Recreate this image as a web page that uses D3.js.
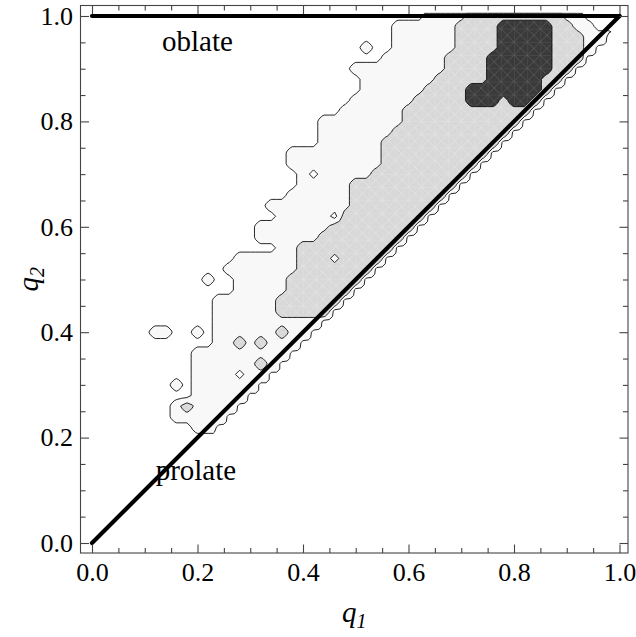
<!DOCTYPE html>
<html><head><meta charset="utf-8">
<script src="https://cdn.jsdelivr.net/npm/d3@7"></script>
<style>body{margin:0;background:#fff}svg{display:block}</style>
</head><body><svg id="c" width="636" height="637"></svg>
<script>
// ---------- data ----------
const majorTicks = [0, 0.2, 0.4, 0.6, 0.8, 1.0];
const minorTicks = [0.05,0.1,0.15,0.25,0.3,0.35,0.45,0.5,0.55,0.65,0.7,0.75,0.85,0.9,0.95];
const tickLabels = ["0.0","0.2","0.4","0.6","0.8","1.0"];
const gridStep = 0.02;           // sampling of the density grid in q1, q2
// contour level 1 (lightest shade): [q2, [[q1 from, q1 to], ...]]
const level1Rows = [
  [1.00,[[0.64,0.92]]],[0.98,[[0.58,0.94]]],[0.96,[[0.58,0.98]]],[0.94,[[0.52,0.52],[0.58,0.96]]],
  [0.92,[[0.56,0.94]]],[0.90,[[0.50,0.92]]],[0.88,[[0.52,0.90]]],[0.86,[[0.52,0.88]]],
  [0.84,[[0.50,0.86]]],[0.82,[[0.48,0.84]]],[0.80,[[0.44,0.82]]],[0.78,[[0.44,0.80]]],
  [0.76,[[0.44,0.78]]],[0.74,[[0.38,0.76]]],[0.72,[[0.38,0.74]]],[0.70,[[0.40,0.72]]],
  [0.68,[[0.40,0.70]]],[0.66,[[0.38,0.68]]],[0.64,[[0.34,0.66]]],[0.62,[[0.36,0.64]]],
  [0.60,[[0.32,0.62]]],[0.58,[[0.32,0.60]]],[0.56,[[0.36,0.58]]],[0.54,[[0.28,0.56]]],
  [0.52,[[0.26,0.54]]],[0.50,[[0.22,0.22],[0.28,0.52]]],[0.48,[[0.28,0.50]]],[0.46,[[0.24,0.48]]],
  [0.44,[[0.24,0.46]]],[0.42,[[0.24,0.44]]],[0.40,[[0.12,0.14],[0.20,0.20],[0.24,0.42]]],
  [0.38,[[0.24,0.40]]],[0.36,[[0.20,0.38]]],[0.34,[[0.20,0.36]]],[0.32,[[0.20,0.36]]],
  [0.30,[[0.16,0.16],[0.20,0.34]]],[0.28,[[0.20,0.32]]],[0.26,[[0.16,0.28]]],
  [0.24,[[0.16,0.26]]],[0.22,[[0.20,0.24]]]
];
// contour level 2 (light grey)
const level2Rows = [
  [1.00,[[0.72,0.88]]],[0.98,[[0.70,0.90]]],[0.96,[[0.70,0.92]]],[0.94,[[0.70,0.92]]],
  [0.92,[[0.68,0.92]]],[0.90,[[0.68,0.90]]],[0.88,[[0.66,0.88]]],[0.86,[[0.64,0.86]]],
  [0.84,[[0.62,0.84]]],[0.82,[[0.60,0.82]]],[0.80,[[0.60,0.80]]],[0.78,[[0.58,0.78]]],
  [0.76,[[0.56,0.76]]],[0.74,[[0.56,0.74]]],[0.72,[[0.56,0.72]]],[0.70,[[0.54,0.70]]],
  [0.68,[[0.50,0.68]]],[0.66,[[0.50,0.66]]],[0.64,[[0.50,0.64]]],[0.62,[[0.48,0.62]]],
  [0.60,[[0.46,0.60]]],[0.58,[[0.44,0.58]]],[0.56,[[0.40,0.56]]],[0.54,[[0.40,0.54]]],
  [0.52,[[0.40,0.52]]],[0.50,[[0.38,0.50]]],[0.48,[[0.38,0.48]]],[0.46,[[0.36,0.46]]],
  [0.44,[[0.36,0.44]]],[0.40,[[0.36,0.36]]],[0.38,[[0.28,0.28],[0.32,0.32]]],[0.34,[[0.32,0.32]]],
  [0.26,[[0.18,0.18]]]
];
// contour level 3 (dark)
const level3Rows = [
  [0.98,[[0.78,0.86]]],[0.96,[[0.78,0.86]]],[0.94,[[0.78,0.86]]],[0.92,[[0.76,0.86]]],
  [0.90,[[0.76,0.86]]],[0.88,[[0.76,0.84]]],[0.86,[[0.72,0.84]]],[0.84,[[0.72,0.76],[0.80,0.82]]]
];
// empty pockets inside the lightest region: [q1, q2]
const holes = [[0.46,0.62],[0.42,0.70],[0.28,0.32]];
// lighter pockets inside the grey region: [q1, q2]
const greyPockets = [[0.46,0.54]];
const contourLevels = [0.4, 1.4, 2.4];
const shadeColors = ["#f8f8f8", "#d8d8d8", "#3a3a3a"];
const boundaryLines = [ {from:[0,0], to:[1,1]}, {from:[0,1], to:[1,1]} ];
const annotations = [ {text:"oblate", q1:0.2, q2:0.934}, {text:"prolate", q1:0.197, q2:0.12} ];

// ---------- layout ----------
const svg = d3.select("#c");
const frame = {left:80.5, right:628, top:5.5, bottom:553};
const x = d3.scaleLinear().domain([0,1]).range([92, 619.5]);
const y = d3.scaleLinear().domain([0,1]).range([543, 16]);
const FONT = "'Liberation Serif','Times New Roman',Times,serif";

// ---------- build grid ----------
const n = Math.round(1/gridStep) + 1;  // 51
const grid = Array.from({length:n}, () => new Array(n).fill(0));
function paint(rows, level){
  rows.forEach(([q2, spans]) => {
    const j = Math.round(q2/gridStep);
    spans.forEach(([a,b]) => {
      for (let i = Math.round(a/gridStep); i <= Math.round(b/gridStep); i++) grid[j][i] = Math.max(grid[j][i], level);
    });
  });
}
paint(level1Rows,1); paint(level2Rows,2); paint(level3Rows,3);
holes.forEach(([a,b]) => { grid[Math.round(b/gridStep)][Math.round(a/gridStep)] = 0; });
greyPockets.forEach(([a,b]) => { grid[Math.round(b/gridStep)][Math.round(a/gridStep)] = 1; });

// refine the grid 2x (bilinear) and cut it along the stepped edge of the data domain (q1 <= q2)
const M = 2*(n-1)+1, fineStep = gridStep/2;
const values = new Array(M*M);
for (let r = 0; r < M; r++) for (let c = 0; c < M; c++){
  const j0 = Math.floor(r/2), j1 = Math.ceil(r/2), i0 = Math.floor(c/2), i1 = Math.ceil(c/2);
  let v = (grid[j0][i0] + grid[j0][i1] + grid[j1][i0] + grid[j1][i1]) / 4;
  if (c > 2*Math.floor((r+1)/2) + 1) v = 0;
  values[r*M + c] = v;
}
const toQ = v => (v - 0.5) * fineStep;   // contour coordinate -> q value
const proj = d3.geoTransform({ point(px, py){ this.stream.point(x(toQ(px)), y(toQ(py))); } });
const path = d3.geoPath(proj);
const contours = d3.contours().size([M,M]).thresholds(contourLevels)(values);

// ---------- defs ----------
const defs = svg.append("defs");
defs.append("clipPath").attr("id","clip").append("rect")
  .attr("x",frame.left).attr("y",frame.top).attr("width",frame.right-frame.left).attr("height",frame.bottom-frame.top);
const w = x(0.025)-x(0);
function mesh(id, bg, line){
  const p = defs.append("pattern").attr("id",id).attr("patternUnits","userSpaceOnUse")
    .attr("width",w).attr("height",w).attr("patternTransform",`translate(${x(0)},${y(0)})`);
  p.append("rect").attr("width",w).attr("height",w).attr("fill",bg);
  p.append("path").attr("d",`M0,0L${w},${w}M${w},0L0,${w}M0,0L${w},0M0,0L0,${w}`)
    .attr("stroke",line).attr("stroke-width",0.7).attr("fill","none");
}
mesh("meshLight", shadeColors[1], "#e6e6e6");
mesh("meshDark", shadeColors[2], "#5e5e5e");
const fills = [shadeColors[0], "url(#meshLight)", "url(#meshDark)"];

// ---------- contours ----------
const gC = svg.append("g").attr("clip-path","url(#clip)");
gC.selectAll("path.ct").data(contours).join("path").attr("class","ct")
  .attr("d", path).attr("fill", (d,i) => fills[i])
  .attr("stroke","#111").attr("stroke-width",0.9).attr("stroke-linejoin","round");

// thick boundary lines
gC.selectAll("line.bd").data(boundaryLines).join("line").attr("class","bd")
  .attr("x1",d=>x(d.from[0])).attr("y1",d=>y(d.from[1]))
  .attr("x2",d=>x(d.to[0])).attr("y2",d=>y(d.to[1]))
  .attr("stroke","#000").attr("stroke-width",4.2).attr("stroke-linecap","round");

// annotations
svg.selectAll("text.ann").data(annotations).join("text").attr("class","ann")
  .attr("x",d=>x(d.q1)).attr("y",d=>y(d.q2)).attr("text-anchor","middle")
  .style("font-family",FONT).style("font-size","29px").attr("fill","#000").text(d=>d.text);

// ---------- frame & axes ----------
svg.append("rect").attr("x",frame.left).attr("y",frame.top)
  .attr("width",frame.right-frame.left).attr("height",frame.bottom-frame.top)
  .attr("fill","none").attr("stroke","#444").attr("stroke-width",1.1);

function styleAxis(g){
  g.select(".domain").remove();
  g.selectAll("line").attr("stroke","#444").attr("stroke-width",1.1);
  g.selectAll("text").style("font-family",FONT).style("font-size","26px").attr("fill","#000");
}
const fmt = (d) => tickLabels[majorTicks.indexOf(d)];
svg.append("g").attr("transform",`translate(0,${frame.bottom})`)
  .call(d3.axisBottom(x).tickValues(majorTicks).tickFormat(fmt).tickSize(-8.5).tickPadding(9.5)).call(styleAxis);
svg.append("g").attr("transform",`translate(0,${frame.bottom})`)
  .call(d3.axisBottom(x).tickValues(minorTicks).tickFormat("").tickSize(-5)).call(styleAxis);
svg.append("g").attr("transform",`translate(0,${frame.top})`)
  .call(d3.axisTop(x).tickValues(majorTicks).tickFormat("").tickSize(-8.5)).call(styleAxis);
svg.append("g").attr("transform",`translate(0,${frame.top})`)
  .call(d3.axisTop(x).tickValues(minorTicks).tickFormat("").tickSize(-5)).call(styleAxis);
svg.append("g").attr("transform",`translate(${frame.left},0)`)
  .call(d3.axisLeft(y).tickValues(majorTicks).tickFormat(fmt).tickSize(-8.5).tickPadding(7.5)).call(styleAxis);
svg.append("g").attr("transform",`translate(${frame.left},0)`)
  .call(d3.axisLeft(y).tickValues(minorTicks).tickFormat("").tickSize(-5)).call(styleAxis);
svg.append("g").attr("transform",`translate(${frame.right},0)`)
  .call(d3.axisRight(y).tickValues(majorTicks).tickFormat("").tickSize(-8.5)).call(styleAxis);
svg.append("g").attr("transform",`translate(${frame.right},0)`)
  .call(d3.axisRight(y).tickValues(minorTicks).tickFormat("").tickSize(-5)).call(styleAxis);

// axis titles
const xt = svg.append("text").attr("x",(frame.left+frame.right)/2).attr("y",622)
  .attr("text-anchor","middle").style("font-family",FONT).style("font-size","29px").style("font-style","italic");
xt.append("tspan").text("q");
xt.append("tspan").style("font-size","20px").attr("dy",6).text("1");
const yt = svg.append("text").attr("transform",`translate(38,${(frame.top+frame.bottom)/2}) rotate(-90)`)
  .attr("text-anchor","middle").style("font-family",FONT).style("font-size","29px").style("font-style","italic");
yt.append("tspan").text("q");
yt.append("tspan").style("font-size","20px").attr("dy",6).text("2");
</script></body></html>
